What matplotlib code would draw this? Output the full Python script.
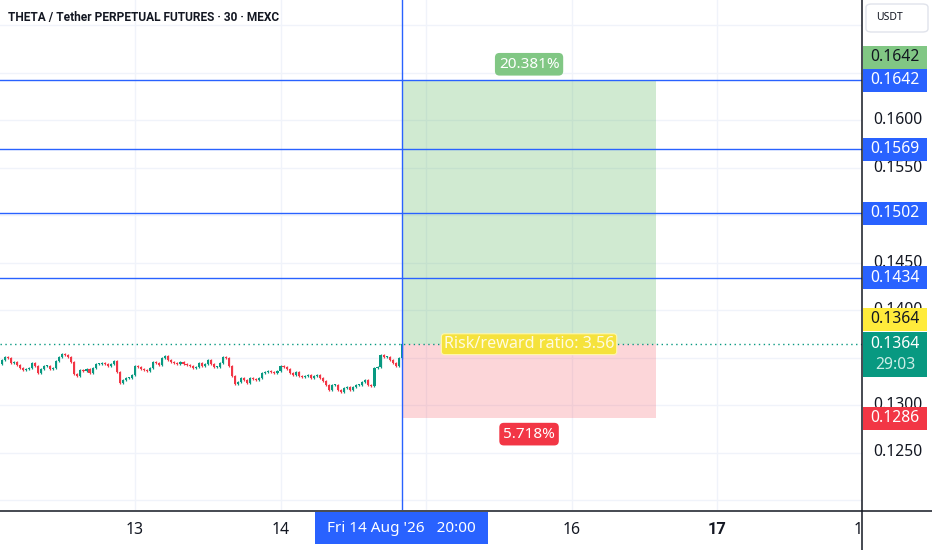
import matplotlib
matplotlib.use("Agg")
import matplotlib.pyplot as plt
import matplotlib.dates as mdates
import matplotlib.transforms as mtrans
from matplotlib.patches import Rectangle, FancyBboxPatch
from matplotlib.lines import Line2D
import pandas as pd

plt.rcParams['font.family'] = ['Noto Sans', 'DejaVu Sans']

# ---------------- data ----------------
title = "THETA / Tether PERPETUAL FUTURES \u00b7 30 \u00b7 MEXC"
first_time = "2026-08-12 01:30"
first_open = 0.13453
closes = [
    0.13432, 0.13474, 0.13505, 0.13495, 0.13442, 0.13453, 0.13421, 0.13390, 0.13368, 0.13379,
    0.13390, 0.13442, 0.13411, 0.13337, 0.13379, 0.13411, 0.13411, 0.13379, 0.13390, 0.13463,
    0.13505, 0.13537, 0.13526, 0.13505, 0.13453, 0.13326, 0.13305, 0.13368, 0.13358, 0.13379,
    0.13337, 0.13390, 0.13432, 0.13432, 0.13442, 0.13432, 0.13411, 0.13432, 0.13463, 0.13347,
    0.13232, 0.13263, 0.13284, 0.13284, 0.13316, 0.13411, 0.13400, 0.13379, 0.13368, 0.13358,
    0.13390, 0.13453, 0.13442, 0.13421, 0.13495, 0.13516, 0.13474, 0.13453, 0.13442, 0.13432,
    0.13453, 0.13432, 0.13421, 0.13411, 0.13390, 0.13400, 0.13442, 0.13411, 0.13432, 0.13474,
    0.13432, 0.13400, 0.13400, 0.13442, 0.13505, 0.13495, 0.13411, 0.13305, 0.13221, 0.13242,
    0.13284, 0.13263, 0.13232, 0.13284, 0.13274, 0.13263, 0.13284, 0.13337, 0.13347, 0.13358,
    0.13347, 0.13337, 0.13358, 0.13411, 0.13400, 0.13379, 0.13337, 0.13316, 0.13347, 0.13305,
    0.13295, 0.13305, 0.13316, 0.13284, 0.13305, 0.13316, 0.13284, 0.13253, 0.13211, 0.13158,
    0.13211, 0.13211, 0.13158, 0.13137, 0.13179, 0.13190, 0.13158, 0.13190, 0.13211, 0.13211,
    0.13242, 0.13263, 0.13211, 0.13200, 0.13390, 0.13400, 0.13526, 0.13505, 0.13505, 0.13474,
    0.13442, 0.13411, 0.13495, 0.13642,
]
entry_price = 0.1364
target_price = 0.1642
stop_price = 0.1286
crosshair_time = "2026-08-14 20:00"
tool_end_time = "2026-08-16 14:00"
level_prices = [0.1642, 0.1569, 0.1502, 0.1434]
level_labels = ["0.1642", "0.1569", "0.1502", "0.1434"]
price_ticks = [0.1250, 0.1300, 0.1400, 0.1450, 0.1550, 0.1600]
price_tick_labels = ["0.1250", "0.1300", "0.1400", "0.1450", "0.1550", "0.1600"]
grid_prices = [0.1200, 0.1250, 0.1300, 0.1350, 0.1400, 0.1450, 0.1500, 0.1550, 0.1600, 0.1650, 0.1700]
day_ticks = ["2026-08-13", "2026-08-14", "2026-08-15", "2026-08-16", "2026-08-17", "2026-08-18"]
day_labels = ["13", "14", "", "16", "17", "18"]
bold_days = ["17"]
target_pct = "20.381%"
stop_pct = "5.718%"
rr_label = "Risk/reward ratio: 3.56"
last_label = "0.1364"
countdown = "29:03"
crosshair_label = "Fri 14 Aug '26   20:00"
currency = "USDT"

# ---------------- style ----------------
UP = '#089981'
DOWN = '#f23645'
BLUE = '#2962ff'
GRID = '#f0f3fa'
TXT = '#131722'
BOLD_FAMILY = ['Roboto', 'DejaVu Sans']
W, H = 932, 550
PX_DAY = 145.5
PX_PRICE = 9500.0

fig = plt.figure(figsize=(W / 100, H / 100), dpi=100)
fig.patch.set_facecolor('white')

def fy(py):
    return 1 - py / H

ax = fig.add_axes([0, fy(510), 862 / W, 510 / H])
d13 = mdates.date2num(pd.Timestamp(day_ticks[0]))
x0 = d13 - 135 / PX_DAY
x1 = x0 + 862 / PX_DAY
ymax = 0.1600 + 120 / PX_PRICE
ymin = ymax - 510 / PX_PRICE
ax.set_xlim(x0, x1)
ax.set_ylim(ymin, ymax)
for s in ax.spines.values():
    s.set_visible(False)
ax.set_xticks([])
ax.set_yticks([])

# grid
for d in day_ticks:
    ax.axvline(mdates.date2num(pd.Timestamp(d)), color=GRID, lw=1, zorder=0)
for p in grid_prices:
    ax.axhline(p, color=GRID, lw=1, zorder=0)

# candles
t = mdates.date2num(pd.date_range(first_time, periods=len(closes), freq='30min'))
opens = [first_open] + closes[:-1]
wick = 0.00015
bots, hts, cols, lows, highs = [], [], [], [], []
for o, c in zip(opens, closes):
    lo, hi = min(o, c), max(o, c)
    bots.append(lo)
    hts.append(max(hi - lo, 0.00012))
    cols.append(UP if c >= o else DOWN)
    lows.append(lo - wick)
    highs.append(hi + wick)
ax.vlines(t, lows, highs, colors=cols, lw=0.9, zorder=3)
ax.bar(t, hts, bottom=bots, width=0.7 / 48, color=cols, lw=0, zorder=4)

# position tool
tc = mdates.date2num(pd.Timestamp(crosshair_time))
te = mdates.date2num(pd.Timestamp(tool_end_time))
ax.add_patch(Rectangle((tc, entry_price), te - tc, target_price - entry_price,
                       fc=(76 / 255, 175 / 255, 80 / 255, 0.26), ec='none', zorder=2))
ax.add_patch(Rectangle((tc, stop_price), te - tc, entry_price - stop_price,
                       fc=(242 / 255, 54 / 255, 69 / 255, 0.2), ec='none', zorder=2))

# lines
ax.axhline(closes[-1], color=UP, lw=1, ls=(0, (1, 2.5)), zorder=5)
for p in level_prices:
    ax.axhline(p, color=BLUE, lw=1, zorder=6)
ax.axvline(tc, color=BLUE, lw=1, zorder=6)

tm = (tc + te) / 2
ax.annotate(target_pct, (tm, target_price), xytext=(0, 6), textcoords='offset points',
            ha='center', va='bottom', color='white', fontsize=11, zorder=8,
            bbox=dict(boxstyle='round,pad=0.25,rounding_size=0.3', fc='#81c784', ec='none'))
ax.annotate(stop_pct, (tm, stop_price), xytext=(0, -6), textcoords='offset points',
            ha='center', va='top', color='white', fontsize=11, zorder=8,
            bbox=dict(boxstyle='round,pad=0.25,rounding_size=0.3', fc=DOWN, ec='none'))
ax.annotate(rr_label, (tm, entry_price), ha='center', va='center', color='#fffbe0',
            fontsize=11.6, zorder=8,
            bbox=dict(boxstyle='round,pad=0.15,rounding_size=0.2', fc='#f5e23c', ec='#fff7b0', lw=0.8))

# ---------------- right price scale ----------------
axr = fig.add_axes([862 / W, fy(510), 70 / W, 510 / H])
axr.set_xlim(0, 70)
axr.set_ylim(ymin, ymax)
axr.axis('off')
PPX = (ymax - ymin) / 510.0
for p, lab in zip(price_ticks, price_tick_labels):
    axr.text(11, p, lab, ha='left', va='center', fontsize=11.3, color=TXT, zorder=2)

def price_box(p, lines, fc, tcols, up_px=0, h_px=23, top_anchor=False):
    tr = mtrans.offset_copy(axr.transData, fig=fig, y=up_px, units='dots')
    if top_anchor:
        ytop = p + 12 * PPX
        yb = ytop - h_px * PPX
    else:
        yb = p - h_px / 2 * PPX
    axr.add_patch(Rectangle((1, yb), 64, h_px * PPX, fc=fc, ec='none', transform=tr, zorder=5))
    for i, (s, c) in enumerate(zip(lines, tcols)):
        axr.text(33, p - i * 21 * PPX, s, ha='center', va='center', fontsize=11.3,
                 color=c, transform=tr, zorder=6)

price_box(target_price, [level_labels[0]], '#81c784', [TXT], up_px=23)
for p, lab in zip(level_prices, level_labels):
    price_box(p, [lab], BLUE, ['white'])
price_box(entry_price, [last_label], '#ffeb3b', [TXT], up_px=25)
price_box(closes[-1], [last_label, countdown], UP, ['white', '#c9ece5'], h_px=45, top_anchor=True)
price_box(stop_price, [f"{stop_price:.4f}"], DOWN, ['white'])

# currency box
fig.add_artist(FancyBboxPatch((866 / W, fy(32)), 62 / W, 28 / H,
                              boxstyle='round,pad=0,rounding_size=0.006',
                              transform=fig.transFigure, fc='white', ec='#e0e3eb', lw=1))
fig.text(876 / W, fy(18), currency, ha='left', va='center', fontsize=7.5, color=TXT)

# ---------------- bottom time scale ----------------
axb = fig.add_axes([0, 0, 862 / W, 40 / H])
axb.set_xlim(x0, x1)
axb.set_ylim(40, 0)
axb.axis('off')
for d, lab in zip(day_ticks, day_labels):
    if not lab:
        continue
    is_bold = lab in bold_days
    axb.text(mdates.date2num(pd.Timestamp(d)), 20, lab, ha='center', va='center',
             fontsize=11.8 if is_bold else 11.3, color=TXT,
             weight='bold' if is_bold else 'normal',
             family=BOLD_FAMILY if is_bold else None, clip_on=True)
half = 86.5 / PX_DAY
axb.add_patch(Rectangle((tc - half, 2), 2 * half, 32, fc=BLUE, ec='none', zorder=5))
axb.text(tc, 18.5, crosshair_label, ha='center', va='center', fontsize=11, color='white', zorder=6)

# axis frame lines
fig.add_artist(Line2D([862 / W, 862 / W], [0, 1], color=TXT, lw=1.1, transform=fig.transFigure))
fig.add_artist(Line2D([0, 1], [fy(510.5), fy(510.5)], color=TXT, lw=1.1, transform=fig.transFigure))

fig.text(8 / W, fy(17), title, ha='left', va='center', fontsize=8.6, weight='bold',
         family=BOLD_FAMILY, color=TXT)

fig.savefig('out.png', dpi=100, facecolor='white')
